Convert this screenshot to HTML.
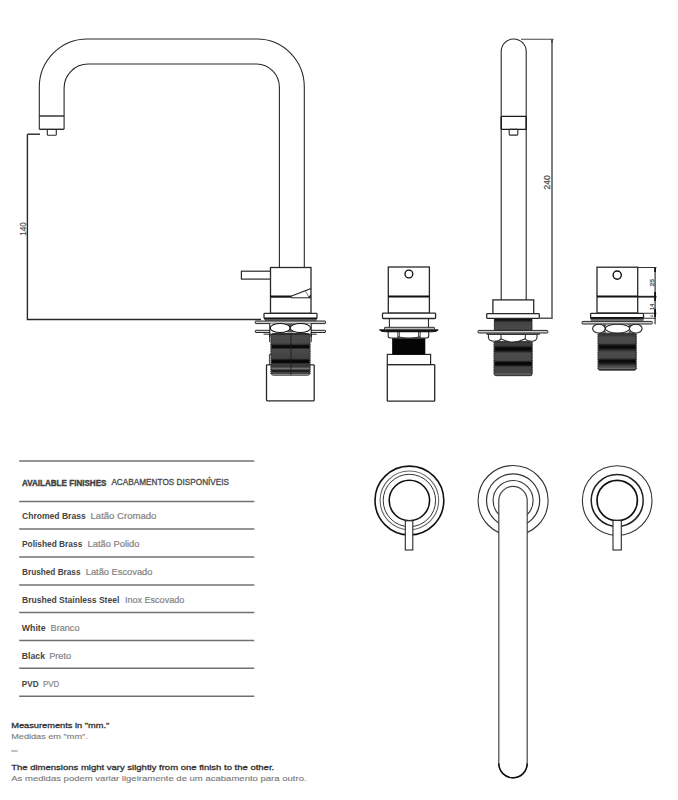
<!DOCTYPE html>
<html><head><meta charset="utf-8">
<style>
html,body{margin:0;padding:0;background:#fff;width:678px;height:800px;overflow:hidden}
svg{position:absolute;left:0;top:0;display:block}
text{font-family:"Liberation Sans",sans-serif}
.b{font-weight:bold;fill:#444}
.r{fill:#858585;stroke:#858585;stroke-width:0.2px}
</style></head><body>
<svg width="678" height="800" viewBox="0 0 678 800">
<defs>
<linearGradient id="gL" gradientUnits="userSpaceOnUse" x1="0" y1="333.5" x2="0" y2="375.5"><stop offset="0" stop-color="#1a1a1a"/><stop offset="0.04" stop-color="#4a4a4a"/><stop offset="0.224" stop-color="#4a4a4a"/><stop offset="0.27" stop-color="#2a2a2a"/><stop offset="0.29" stop-color="#080808"/><stop offset="0.33" stop-color="#080808"/><stop offset="0.38" stop-color="#4a4a4a"/><stop offset="0.59" stop-color="#424242"/><stop offset="0.643" stop-color="#080808"/><stop offset="0.695" stop-color="#080808"/><stop offset="0.72" stop-color="#3a3a3a"/><stop offset="0.8" stop-color="#3a3a3a"/><stop offset="0.826" stop-color="#777"/><stop offset="0.845" stop-color="#666"/><stop offset="0.88" stop-color="#1e1e1e"/><stop offset="0.905" stop-color="#222"/><stop offset="0.917" stop-color="#444"/><stop offset="0.957" stop-color="#444"/><stop offset="0.976" stop-color="#aaa"/><stop offset="1" stop-color="#444"/></linearGradient>
<linearGradient id="gT" gradientUnits="userSpaceOnUse" x1="0" y1="341.4" x2="0" y2="375.7"><stop offset="0" stop-color="#2a2a2a"/><stop offset="0.06" stop-color="#404040"/><stop offset="0.12" stop-color="#3a3a3a"/><stop offset="0.19" stop-color="#080808"/><stop offset="0.255" stop-color="#080808"/><stop offset="0.344" stop-color="#4a4a4a"/><stop offset="0.55" stop-color="#4a4a4a"/><stop offset="0.615" stop-color="#080808"/><stop offset="0.68" stop-color="#080808"/><stop offset="0.75" stop-color="#444"/><stop offset="0.93" stop-color="#444"/><stop offset="0.95" stop-color="#888"/><stop offset="0.98" stop-color="#333"/><stop offset="1" stop-color="#333"/></linearGradient>
<linearGradient id="gT1" gradientUnits="userSpaceOnUse" x1="0" y1="318" x2="0" y2="330.4"><stop offset="0" stop-color="#080808"/><stop offset="0.2" stop-color="#1a1a1a"/><stop offset="0.35" stop-color="#444"/><stop offset="0.9" stop-color="#4a4a4a"/><stop offset="1" stop-color="#222"/></linearGradient>
<linearGradient id="gR" gradientUnits="userSpaceOnUse" x1="0" y1="333.2" x2="0" y2="370.2"><stop offset="0" stop-color="#2a2a2a"/><stop offset="0.09" stop-color="#444"/><stop offset="0.13" stop-color="#4a4a4a"/><stop offset="0.27" stop-color="#4a4a4a"/><stop offset="0.3" stop-color="#2a2a2a"/><stop offset="0.35" stop-color="#0a0a0a"/><stop offset="0.39" stop-color="#0a0a0a"/><stop offset="0.45" stop-color="#2a2a2a"/><stop offset="0.51" stop-color="#4a4a4a"/><stop offset="0.665" stop-color="#4a4a4a"/><stop offset="0.7" stop-color="#2a2a2a"/><stop offset="0.74" stop-color="#0a0a0a"/><stop offset="0.78" stop-color="#0a0a0a"/><stop offset="0.84" stop-color="#2a2a2a"/><stop offset="0.89" stop-color="#4a4a4a"/><stop offset="0.93" stop-color="#555"/><stop offset="0.95" stop-color="#777"/><stop offset="0.97" stop-color="#333"/><stop offset="1" stop-color="#333"/></linearGradient>
</defs>
<g fill="none" stroke="#282828" stroke-width="1.1">
<!-- ===== LEFT FAUCET ===== -->
<path d="M39.3 129.3 V87 A48 48 0 0 1 87.3 39 H257 A47.3 48 0 0 1 304.3 87 V267.5"/>
<path d="M64.1 129.3 V88 A24 24 0 0 1 88.1 64 H256.5 A23 23 0 0 1 279.4 87 V267.5"/>
<path d="M39.3 116 H64.1" stroke-width="1.4"/>
<path d="M39.3 129.3 H64.1" stroke-width="1.4"/>
<rect x="47.3" y="129.5" width="9" height="5.8" rx="0.8"/>
<!-- dims -->
<path d="M27.4 134.2 H40" stroke-width="1.4"/>
<path d="M27.4 134.2 V319.5 H261" stroke-width="1.4"/>
<!-- lever and body -->
<rect x="241.4" y="271.2" width="29.2" height="7.9" fill="#fff" stroke-width="1.2"/>
<rect x="270.5" y="267.5" width="40.5" height="45.8" fill="#fff" stroke-width="1.3"/>
<path d="M270.5 296.6 H291.5" stroke="#111" stroke-width="2.2"/>
<path d="M291 297.8 H311" stroke="#222" stroke-width="1"/>
<path d="M291 296.3 L311 288.5" stroke="#222" stroke-width="1.1"/>
<path d="M305.5 291 L309 297.5" stroke="#444" stroke-width="0.7"/><path d="M308 297.8 L310.8 294 L310.8 297.8 Z" fill="#222" stroke="none"/>
<!-- left base -->
<rect x="266.5" y="364.8" width="47.7" height="36" rx="0.8" fill="#fff" stroke-width="1.3"/>
<path d="M271 354.5 H269.4 V365 M269.6 334.5 V342 M311.3 334.5 V342" stroke-width="0.9"/>
<rect x="271.2" y="333.5" width="38.6" height="41.7" rx="2" fill="url(#gL)" stroke="#222" stroke-width="0.8"/>
<path d="M270.8 335 V374 M310.2 335 V374" stroke="#333" stroke-width="1" stroke-dasharray="0.9 0.9"/>
<path d="M290.9 333.5 V375" stroke="#1a1a1a" stroke-width="0.8"/>
<path d="M263.6 334.2 H316.7" stroke-width="1"/>
<rect x="255.3" y="330.3" width="70.2" height="2.2" rx="0.5" fill="#ddd" stroke-width="1"/>
<rect x="265" y="319.3" width="51.5" height="1.8" fill="#777" stroke="none"/>
<rect x="255.3" y="321" width="70.2" height="2.6" rx="0.5" fill="#ccc" stroke-width="1"/>
<path d="M270 323.5 H311 V333 H270 Z" fill="#fff" stroke="none"/>
<path d="M286.5 323.6 H294 L290.2 326.5 Z M286.5 332.6 H294 L290.2 329.5 Z" fill="#555" stroke="none"/>
<ellipse cx="280.2" cy="328" rx="10" ry="4.5" fill="#fff" stroke="#111" stroke-width="1.1"/>
<ellipse cx="300.4" cy="328" rx="10.2" ry="4.5" fill="#fff" stroke="#111" stroke-width="1.1"/>
<path d="M269.8 323.5 V337 M311.2 323.5 V337" stroke="#111" stroke-width="1"/>
<rect x="264" y="313.3" width="53" height="5.2" rx="0.8" fill="#fff" stroke-width="1.2"/>
<path d="M264 318.4 H317" stroke="#111" stroke-width="2"/>
<text stroke="#555" stroke-width="0.25" x="0" y="0" transform="translate(25.9 235.7) rotate(-90)" font-size="9.6" fill="#555" textLength="13.3" lengthAdjust="spacingAndGlyphs">140</text>
<!-- ===== MIDDLE VALVE ===== -->
<rect x="387.3" y="364.6" width="47.4" height="36.6" rx="0.6" fill="#fff" stroke-width="1.3"/>
<rect x="387.3" y="354.4" width="43.3" height="10.2" fill="#fff" stroke-width="1.2"/>
<rect x="392.3" y="338.5" width="32.7" height="16" fill="#050505" stroke="#111" stroke-width="0.6"/>
<path d="M388.2 331.5 H428.7 V336.3 Q428.7 338 426.5 338 H421 Q419.8 338 419.5 337 Q409 339 398.5 337 Q398.2 338 397 338 H390.5 Q388.2 338 388.2 336.3 Z" fill="#fff" stroke-width="1.1"/>
<path d="M397.8 331.5 V337.5 M399.3 331.5 V337.2 M418.6 331.5 V337.2 M420.1 331.5 V337.5" stroke-width="0.9"/>
<path d="M389.4 318.5 V327 M428.5 318.5 V327" stroke-width="1.1"/>
<path d="M379.5 329.8 Q380.5 331.8 386 331.8 H432 Q437.5 331.8 438.2 329.8 Z" fill="#111" stroke="#111" stroke-width="0.9"/>
<rect x="384.5" y="327.3" width="50" height="2.5" rx="0.5" fill="#bbb" stroke="#222" stroke-width="0.9"/>
<rect x="388.3" y="267" width="41.1" height="46.2" fill="#fff" stroke-width="1.3"/>
<path d="M388.3 296.5 H429.4" stroke="#111" stroke-width="2"/>
<circle cx="408.9" cy="274" r="3.9" stroke="#111" stroke-width="1.35"/>
<rect x="382.5" y="313.2" width="53.1" height="5.3" rx="0.8" fill="#fff" stroke-width="1.3"/>

<!-- ===== TALL SPOUT ===== -->
<path d="M501.2 299.9 V51.5 A12.5 12.5 0 0 1 526.2 51.5 V299.9"/>
<path d="M501.2 116.4 H526.2 M501.2 129.3 H526.2" stroke="#1a1a1a" stroke-width="1.2"/>
<path d="M501.2 116.4 V129.3 M526.2 116.4 V129.3" stroke="#1a1a1a" stroke-width="1.4"/>
<rect x="509.2" y="129.3" width="8.6" height="5.8" rx="0.8"/>
<path d="M521 39.3 H553.5" stroke="#444" stroke-width="1.1"/>
<path d="M552 39.5 V43" stroke="#222" stroke-width="1.8"/>
<path d="M552 39.3 V318.2 H539.3" stroke="#555" stroke-width="1.5"/>
<text stroke="#555" stroke-width="0.25" x="0" y="0" transform="translate(549.5 189.5) rotate(-90)" font-size="9" fill="#555" textLength="14.2" lengthAdjust="spacingAndGlyphs">240</text>
<rect x="494.3" y="341.4" width="37.7" height="34.3" rx="1.5" fill="url(#gT)" stroke="#222" stroke-width="0.8"/>
<path d="M493.90000000000003 342 V374.5 M532.4 342 V374.5" stroke="#333" stroke-width="1" stroke-dasharray="0.9 0.9"/>
<path d="M488.4 334.4 H537 V337.5 Q536.5 341.2 531.5 341.2 Q527 341.2 525.3 338.8 Q519 342 513 342 Q507 342 501 338.8 Q499 341.2 494.5 341.2 Q488.8 341.2 488.4 337.5 Z" fill="#fff" stroke-width="1.1"/>
<path d="M501 334.4 V338.8 M525.3 334.4 V338.8" stroke-width="1"/>
<rect x="487" y="333" width="52.3" height="1.4" fill="#bbb" stroke-width="0.8"/>
<rect x="494.3" y="318" width="37.7" height="12.4" fill="url(#gT1)" stroke="#222" stroke-width="0.8"/>
<rect x="478" y="330.4" width="69.9" height="2.6" rx="0.8" fill="#ccc" stroke-width="1"/>
<rect x="492.9" y="299.9" width="40.8" height="13.8" fill="#fff" stroke-width="1.3"/>
<rect x="486.7" y="313.7" width="52.6" height="4.6" rx="0.8" fill="#fff" stroke-width="1.3"/>

<!-- ===== RIGHT VALVE ===== -->
<rect x="598.3" y="333.2" width="37.7" height="37" rx="1.5" fill="url(#gR)" stroke="#222" stroke-width="0.8"/>
<path d="M597.9 334 V369 M636.4 334 V369" stroke="#333" stroke-width="1" stroke-dasharray="0.9 0.9"/>
<path d="M603 324.5 L606.5 324.5 L604.8 327 Z M603 332.8 L606.5 332.8 L604.8 330.5 Z M628 324.5 L631.5 324.5 L629.8 327 Z M628 332.8 L631.5 332.8 L629.8 330.5 Z" fill="#444" stroke="none"/>
<ellipse cx="598.9" cy="328.6" rx="6.3" ry="4.4" fill="#fff" stroke-width="1.1"/>
<ellipse cx="617.5" cy="328.6" rx="12.3" ry="4.4" fill="#fff" stroke-width="1.1"/>
<ellipse cx="635.8" cy="328.6" rx="6.3" ry="4.4" fill="#fff" stroke-width="1.1"/>
<rect x="582" y="321.4" width="70.3" height="2.6" rx="0.8" fill="#ccc" stroke-width="1"/>
<rect x="597" y="267.2" width="40.7" height="45.8" fill="#fff" stroke-width="1.3"/>
<path d="M597 296.6 H637.7" stroke="#111" stroke-width="2"/>
<circle cx="617.2" cy="275.1" r="4.1" stroke="#111" stroke-width="1.4"/>
<rect x="591" y="318.6" width="52.3" height="2" fill="#777" stroke="#444" stroke-width="0.5"/>
<rect x="590.6" y="313.4" width="52.9" height="5.2" rx="0.8" fill="#fff" stroke-width="1.3"/>
<path d="M590.6 317.8 H643.5" stroke="#111" stroke-width="1.6"/>
<path d="M637.7 267.5 H656.5 M643.5 313.2 H656.5" stroke="#333" stroke-width="1.1"/>
<path d="M637.7 296.7 H656.5" stroke="#222" stroke-width="1.8"/>
<path d="M643.5 318.3 H656" stroke="#555" stroke-width="1.2"/>
<path d="M655.1 267.5 V324.2" stroke="#333" stroke-width="1.2"/>
<path d="M655.1 268 V272 M655.1 292 V301 M655.1 309 V317" stroke="#111" stroke-width="1.8"/>
<text stroke="#444" stroke-width="0.2" x="0" y="0" transform="translate(653.5 286.4) rotate(-90)" font-size="6" fill="#444" textLength="7.5" lengthAdjust="spacingAndGlyphs">25</text>
<text stroke="#444" stroke-width="0.2" x="0" y="0" transform="translate(653.5 310) rotate(-90)" font-size="6" fill="#444" textLength="6.3" lengthAdjust="spacingAndGlyphs">14</text>
<text stroke="#555" stroke-width="0.15" x="0" y="0" transform="translate(653.2 317) rotate(-90)" font-size="4.2" fill="#555">4</text>

<!-- ===== PLAN VIEW ===== -->
<circle cx="409.4" cy="500.5" r="34.4" stroke="#111" stroke-width="1.6"/>
<circle cx="409.4" cy="500.3" r="29.3" stroke="#666" stroke-width="1.1"/>
<circle cx="409.4" cy="500.5" r="26.2" stroke="#333" stroke-width="1"/>
<circle cx="409.4" cy="500.5" r="20.2" stroke="#111" stroke-width="1.6"/>
<rect x="405.3" y="520.8" width="7.5" height="29.2" fill="#fff" stroke-width="1.1"/>

<circle cx="513.1" cy="500.5" r="35" stroke="#333" stroke-width="1.1"/>
<circle cx="513.1" cy="500.5" r="26.6" stroke="#333" stroke-width="1.2"/>
<circle cx="513.1" cy="500.5" r="20" stroke="#333" stroke-width="1.1"/>
<path d="M498.8 500.6 A14.2 14.2 0 0 1 527.2 500.6 V763.6 A14.2 14.2 0 0 1 498.8 763.6 Z" fill="#fff" stroke="#444" stroke-width="1.2"/>
<path d="M527.2 763.6 A14.2 14.2 0 0 1 498.8 763.6" stroke="#111" stroke-width="1.5"/>

<circle cx="617.2" cy="500.5" r="34.8" stroke="#333" stroke-width="1.1"/>
<circle cx="617.2" cy="500.5" r="26" stroke="#222" stroke-width="1.5"/>
<circle cx="617.2" cy="500.5" r="20.2" stroke="#111" stroke-width="1.7"/>
<rect x="613" y="520.5" width="8.3" height="29.5" fill="#fff" stroke-width="1.1"/>
</g>
<!-- ===== TABLE ===== -->
<g fill="none" stroke="#707070" stroke-width="1.5">
<path d="M19.2 461 H254.3"/>
<path d="M19.2 501.4 H254.3"/>
<path d="M19.2 529.1 H254.3"/>
<path d="M19.2 557 H254.3"/>
<path d="M19.2 584.9 H254.3"/>
<path d="M19.2 612.6 H254.3"/>
<path d="M19.2 640.5 H254.3"/>
<path d="M19.2 668.2 H254.3"/>
<path d="M19.2 696.3 H254.3"/>
</g>
<g font-size="8.3">
<text class="b" stroke="#3c3c3c" stroke-width="0.35" x="21.9" y="485.5" textLength="84.6" lengthAdjust="spacingAndGlyphs">AVAILABLE FINISHES</text>
<text x="111.4" y="485.3" fill="#4a4a4a" stroke="#4a4a4a" stroke-width="0.3" textLength="117.7" lengthAdjust="spacingAndGlyphs">ACABAMENTOS DISPONÍVEIS</text>
<text class="b" x="22" y="519.4" textLength="63.7" lengthAdjust="spacingAndGlyphs">Chromed Brass</text>
<text class="r" x="90.5" y="519.4" textLength="65.9" lengthAdjust="spacingAndGlyphs">Latão Cromado</text>
<text class="b" x="22" y="547.4" textLength="60.3" lengthAdjust="spacingAndGlyphs">Polished Brass</text>
<text class="r" x="87.6" y="547.4" textLength="51.9" lengthAdjust="spacingAndGlyphs">Latão Polido</text>
<text class="b" x="22" y="575.4" textLength="58.5" lengthAdjust="spacingAndGlyphs">Brushed Brass</text>
<text class="r" x="85.8" y="575.4" textLength="66.6" lengthAdjust="spacingAndGlyphs">Latão Escovado</text>
<text class="b" x="22" y="603.4" textLength="97.3" lengthAdjust="spacingAndGlyphs">Brushed Stainless Steel</text>
<text class="r" x="124.9" y="603.4" textLength="59.4" lengthAdjust="spacingAndGlyphs">Inox Escovado</text>
<text class="b" x="21.8" y="631.4" textLength="23.8" lengthAdjust="spacingAndGlyphs">White</text>
<text class="r" x="50.6" y="631.4" textLength="28.9" lengthAdjust="spacingAndGlyphs">Branco</text>
<text class="b" x="21.8" y="659.4" textLength="23.2" lengthAdjust="spacingAndGlyphs">Black</text>
<text class="r" x="49.2" y="659.4" textLength="21.9" lengthAdjust="spacingAndGlyphs">Preto</text>
<text class="b" x="21.8" y="687.4" textLength="16.8" lengthAdjust="spacingAndGlyphs">PVD</text>
<text class="r" x="43.1" y="687.4" textLength="16.2" lengthAdjust="spacingAndGlyphs">PVD</text>
</g>
<g font-size="8">
<text fill="#333" stroke="#333" stroke-width="0.3" x="11.2" y="728.3" textLength="98.2" lengthAdjust="spacingAndGlyphs">Measurements in "mm."</text>
<text fill="#7a7a7a" stroke="#7a7a7a" stroke-width="0.12" x="11.2" y="738.9" textLength="76.6" lengthAdjust="spacingAndGlyphs">Medidas em "mm".</text>
<path d="M11.2 751 H17.7" stroke="#666" stroke-width="0.8"/>
<text fill="#333" stroke="#333" stroke-width="0.3" x="11.2" y="770" textLength="263" lengthAdjust="spacingAndGlyphs">The dimensions might vary slightly from one finish to the other.</text>
<text fill="#7a7a7a" stroke="#7a7a7a" stroke-width="0.12" x="11.2" y="780.7" textLength="295.4" lengthAdjust="spacingAndGlyphs">As medidas podem variar ligeiramente de um acabamento para outro.</text>
</g>
</svg>
</body></html>
